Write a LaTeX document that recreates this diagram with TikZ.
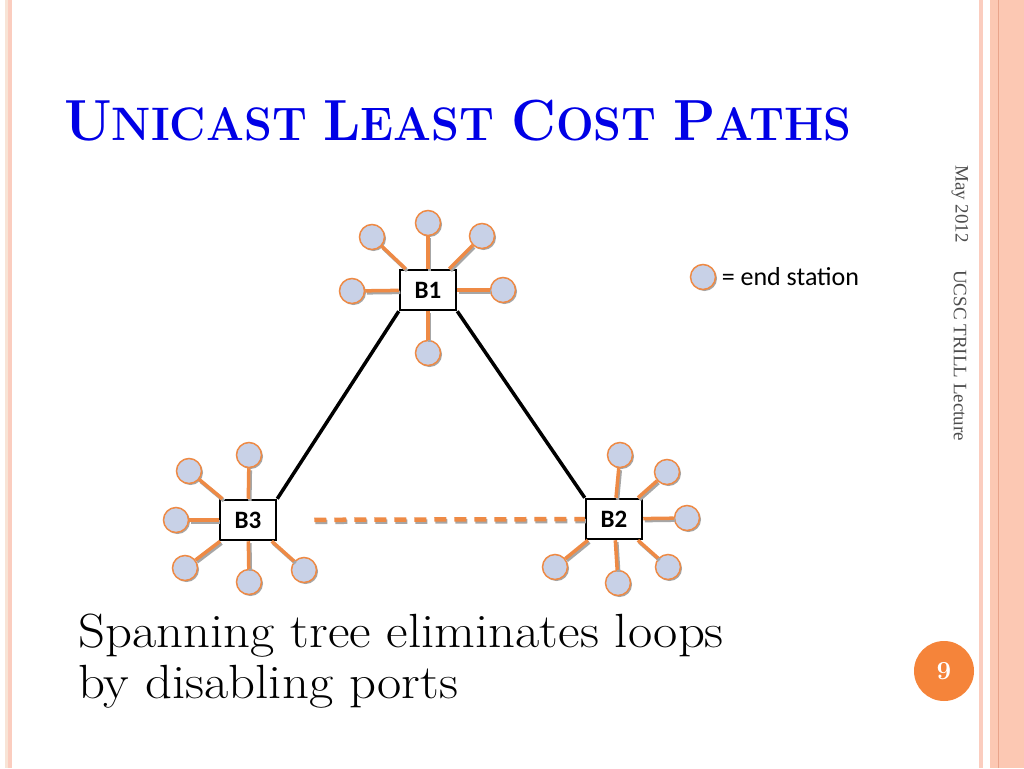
\documentclass[tikz,border=0pt]{standalone}
\usepackage{fontspec}
\usepackage{tikz}
\usetikzlibrary{positioning,shadows}
\newfontfamily\labelfont{Carlito}
\newfontfamily\footfont{Liberation Serif}
\definecolor{titleblue}{HTML}{0000E6}
\definecolor{portorange}{HTML}{EE8A45}
\definecolor{stationblue}{HTML}{C8D1E7}
\definecolor{portshadow}{HTML}{A6A6A6}
\definecolor{stripepink}{HTML}{FBCDBF}
\definecolor{stripesalmon}{HTML}{FCC8B3}
\definecolor{stripeline}{HTML}{E9A48B}
\definecolor{stripecream}{HTML}{F8E4D6}
\definecolor{pageorange}{HTML}{F5843A}
\definecolor{footgray}{HTML}{4D4D4D}
\newcommand{\capbig}[1]{{\fontsize{58}{60}\selectfont #1}}
\newcommand{\capsmall}[1]{{\fontsize{47}{50}\selectfont #1}}
\tikzset{
  station/.style={circle, draw=portorange, line width=1.5pt, fill=stationblue, minimum size=25pt, inner sep=0pt,
    drop shadow={shadow xshift=1.5pt, shadow yshift=-1.5pt, fill=portshadow, opacity=1}},
  bridge/.style={draw=black, line width=2.5pt, fill=white, minimum width=56pt, minimum height=40pt,
    font=\labelfont\bfseries\fontsize{25}{27}\selectfont},
  port/.style={draw=portorange, line width=3.5pt,
    preaction={draw=portshadow, line width=3.5pt, transform canvas={xshift=1.5pt, yshift=-2pt}}},
  link/.style={draw=black, line width=3.5pt},
  blocked/.style={draw=portorange, line width=4.5pt, dash pattern=on 12pt off 8pt, shorten <=37pt,
    preaction={draw=portshadow, line width=4.5pt, dash pattern=on 12pt off 8pt, shorten <=37pt,
      transform canvas={xshift=1pt, yshift=-2pt}}}
}
\begin{document}
\begin{tikzpicture}[x=1pt, y=-1pt]
\useasboundingbox[fill=white] (0,0) rectangle (1024,768);
% slide frame
\fill[stripecream] (5,0) rectangle (8,768);
\fill[stripepink] (8,0) rectangle (12,768);
\fill[stripepink] (979,0) rectangle (983,768);
\fill[stripesalmon] (990,0) rectangle (1024,768);
\draw[stripeline, line width=1pt] (998,0) -- (998,768);

\node[anchor=base west, inner sep=0pt, text=titleblue, font=\bfseries\fontsize{47}{50}\selectfont] (title) at (64,140)
  {\scalebox{0.95}[1]{\capbig{U}\capsmall{NICAST} \capbig{L}\capsmall{EAST} \capbig{C}\capsmall{OST} \capbig{P}\capsmall{ATHS}}};

% bridges
\node[bridge] (b1) at (428,290) {B1};
\node[bridge] (b2) at (614,519) {B2};
\node[bridge] (b3) at (248,520) {B3};

% end stations of B1
\node[station] (b1n) at (428,223) {};
\node[station] (b1nw) at (372,237) {};
\node[station] (b1ne) at (482,236) {};
\node[station] (b1w) at (352,291) {};
\node[station] (b1e) at (503,290) {};
\node[station] (b1s) at (428,353) {};
% end stations of B2
\node[station] (b2n) at (620,455) {};
\node[station] (b2ne) at (667,472) {};
\node[station] (b2e) at (687,518) {};
\node[station] (b2se) at (668,567) {};
\node[station] (b2s) at (618,583) {};
\node[station] (b2sw) at (555,567) {};
% end stations of B3
\node[station] (b3n) at (249,455) {};
\node[station] (b3nw) at (189,471) {};
\node[station] (b3w) at (176,520) {};
\node[station] (b3sw) at (185,568) {};
\node[station] (b3s) at (249,582) {};
\node[station] (b3se) at (304,570) {};

\draw[port] (b1n) -- (b1);
\draw[port] (b1nw) -- (b1);
\draw[port] (b1ne) -- (b1);
\draw[port] (b1w) -- (b1);
\draw[port] (b1e) -- (b1);
\draw[port] (b1s) -- (b1);
\draw[port] (b2n) -- (b2);
\draw[port] (b2ne) -- (b2);
\draw[port] (b2e) -- (b2);
\draw[port] (b2se) -- (b2);
\draw[port] (b2s) -- (b2);
\draw[port] (b2sw) -- (b2);
\draw[port] (b3n) -- (b3);
\draw[port] (b3nw) -- (b3);
\draw[port] (b3w) -- (b3);
\draw[port] (b3sw) -- (b3);
\draw[port] (b3s) -- (b3);
\draw[port] (b3se) -- (b3);

% spanning tree links and the disabled one
\draw[link] (b1.south west) -- (b3.north east);
\draw[link] (b1.south east) -- (b2.north west);
\draw[blocked] (b3) -- (b2);

% legend
\node[station] (key) at (703,277) {};
\node[right=2pt of key, font=\labelfont\fontsize{26}{28}\selectfont] (keytext) {= end station};

\node[anchor=base west, align=left, inner sep=0pt, font=\fontsize{48}{51}\selectfont] (caption) at (78,698)
  {\scalebox{1.1}[1]{Spanning tree eliminates loops}\\\scalebox{1.1}[1]{by disabling ports}};

% footer
\node[rotate=-90, anchor=west, inner sep=0pt, text=footgray, font=\footfont\fontsize{19}{19}\selectfont] (date) at (960,165) {May 2012};
\node[rotate=-90, anchor=west, inner sep=0pt, text=footgray, font=\footfont\fontsize{19}{19}\selectfont] (lecture) at (960,270) {UCSC TRILL Lecture};
\node[circle, fill=pageorange, minimum size=60pt, inner sep=0pt, text=white, font=\bfseries\fontsize{26}{26}\selectfont] (pagenum) at (944,671) {9};
\end{tikzpicture}
\end{document}
